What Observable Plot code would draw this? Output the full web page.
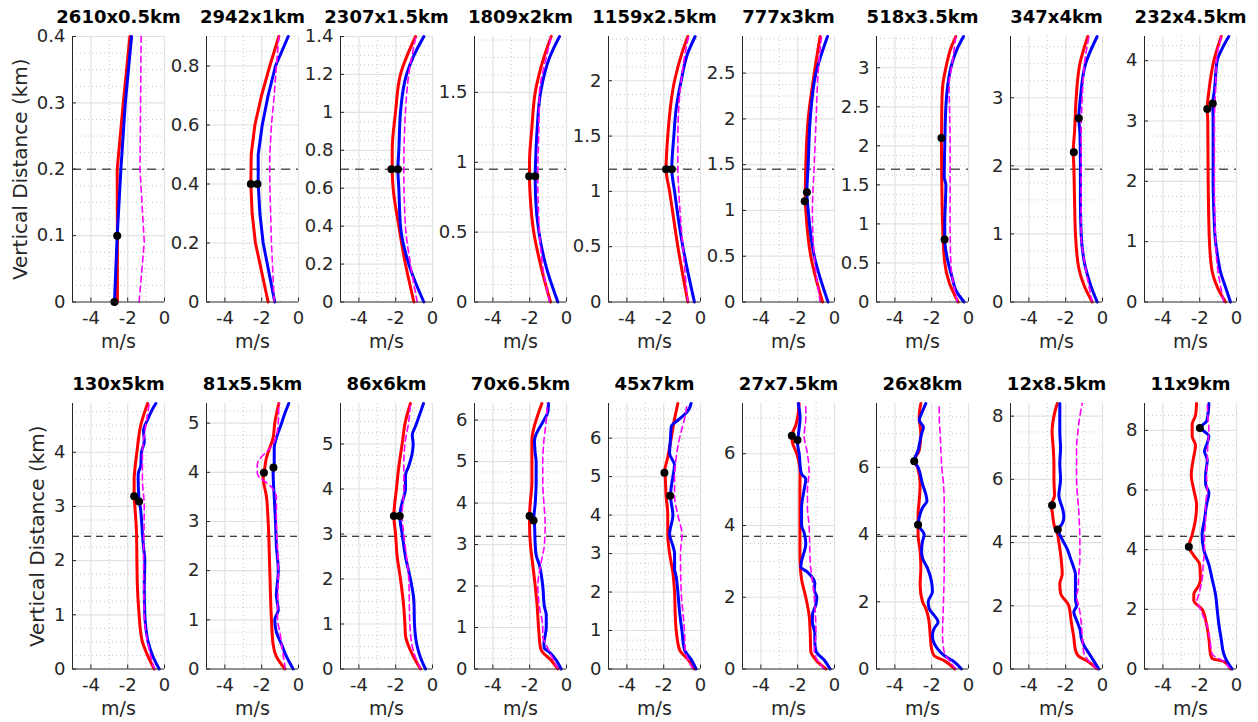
<!DOCTYPE html>
<html><head><meta charset="utf-8">
<script src="https://cdn.jsdelivr.net/npm/d3@7"></script>
<script src="https://cdn.jsdelivr.net/npm/@observablehq/plot@0.6"></script>
<style>
body{margin:0;background:#fff;}
#chart{position:relative;width:1258px;height:722px;overflow:hidden;background:#fff;}
#chart svg{position:absolute;overflow:visible;background:transparent;max-width:none;}
</style></head><body><div id="chart"></div>
<script>
// ---------- data ----------
const titles = ["2610x0.5km","2942x1km","2307x1.5km","1809x2km","1159x2.5km","777x3km","518x3.5km","347x4km","232x4.5km",
  "130x5km","81x5.5km","86x6km","70x6.5km","45x7km","27x7.5km","26x8km","12x8.5km","11x9km"];
const yMax = [0.4,0.9,1.4,1.9,2.4,2.9,3.4,3.9,4.4,4.9,5.4,5.9,6.4,6.9,7.4,7.9,8.4,8.9];
const tickStep = [0.1,0.2,0.2,0.5,0.5,0.5,0.5,1,1,1,1,1,1,1,2,2,2,2];
const thresholds = [0.2,0.45,0.7,0.95,1.2,1.45,1.7,1.95,2.2,2.45,2.7,2.95,3.2,3.45,3.7,3.95,4.2,4.45];
const xTicksMajor = [-4,-2,0];
const xTicksMinor = [-3,-1];
const xDomain = [-5,0];
const yLabel = "Vertical Distance (km)";
const xLabel = "m/s";

// profiles: [depth km, speed m/s]
const redLines = [
 [[0,-2.56],[0.1,-2.56],[0.2,-2.57],[0.3,-2.24],[0.4,-1.88]],
 [[0,-1.65],[0.2,-2.34],[0.3,-2.52],[0.4,-2.59],[0.5,-2.57],[0.6,-2.37],[0.7,-2.01],[0.8,-1.56],[0.9,-1.07]],
 [[0,-1.01],[0.2,-1.47],[0.4,-1.83],[0.6,-2.14],[0.7,-2.19],[0.8,-2.19],[1.0,-2.01],[1.2,-1.74],[1.4,-0.92]],
 [[0,-0.87],[0.25,-1.38],[0.5,-1.78],[0.75,-1.97],[0.9,-2.01],[1.0,-2.01],[1.25,-1.88],[1.5,-1.7],[1.75,-1.23],[1.9,-0.83]],
 [[0,-0.69],[0.5,-1.23],[1.0,-1.68],[1.2,-1.87],[1.5,-1.78],[2.0,-1.41],[2.25,-1.01],[2.4,-0.69]],
 [[0,-0.65],[0.5,-1.29],[1.0,-1.56],[1.1,-1.59],[1.5,-1.56],[2.0,-1.43],[2.5,-1.1],[2.9,-0.78]],
 [[0,-0.56],[0.25,-1.05],[0.5,-1.29],[1.0,-1.41],[1.5,-1.45],[2.0,-1.47],[2.5,-1.45],[2.75,-1.41],[3.0,-1.23],[3.25,-0.96],[3.4,-0.69]],
 [[0,-0.56],[0.25,-1.01],[0.5,-1.29],[1.0,-1.47],[1.5,-1.52],[2.0,-1.56],[2.2,-1.59],[2.5,-1.52],[3.0,-1.43],[3.5,-1.23],[3.9,-0.8]],
 [[0,-0.6],[0.25,-1.05],[0.5,-1.32],[1.0,-1.47],[2.0,-1.54],[3.0,-1.56],[3.2,-1.59],[3.5,-1.5],[4.0,-1.23],[4.4,-0.83]],
 [[0,-0.56],[0.25,-0.92],[0.5,-1.2],[0.75,-1.32],[1.0,-1.38],[1.5,-1.47],[2.0,-1.5],[2.5,-1.52],[3.0,-1.61],[3.2,-1.65],[3.5,-1.65],[3.75,-1.59],[4.0,-1.5],[4.5,-1.29],[4.9,-0.92]],
 [[0,-0.74],[0.25,-1.2],[0.5,-1.38],[1.0,-1.47],[2.0,-1.56],[3.0,-1.65],[3.5,-1.74],[3.9,-1.92],[4.1,-1.83],[4.3,-1.74],[4.5,-1.56],[4.7,-1.38],[5.0,-1.29],[5.4,-1.07]],
 [[0,-0.65],[0.25,-1.0],[0.5,-1.29],[0.75,-1.47],[1.0,-1.5],[1.5,-1.59],[2.0,-1.74],[2.5,-1.92],[3.0,-2.01],[3.4,-2.1],[4.0,-1.96],[4.5,-1.83],[5.0,-1.65],[5.5,-1.47],[5.9,-1.2]],
 [[0,-0.47],[0.25,-0.92],[0.4,-1.29],[0.5,-1.41],[1.0,-1.52],[1.5,-1.59],[2.0,-1.7],[2.5,-1.83],[3.0,-1.96],[3.5,-2.01],[3.7,-2.01],[4.0,-1.97],[4.5,-1.88],[5.0,-1.88],[5.5,-1.88],[5.8,-1.78],[6.0,-1.65],[6.4,-1.34]],
 [[0,-0.33],[0.25,-0.69],[0.5,-1.14],[1.0,-1.32],[1.5,-1.38],[2.0,-1.41],[2.5,-1.5],[3.0,-1.68],[3.5,-1.78],[4.0,-1.78],[4.5,-1.87],[5.0,-1.92],[5.1,-1.96],[5.5,-1.78],[6.0,-1.59],[6.5,-1.41],[6.9,-1.23]],
 [[0,-0.47],[0.25,-1.01],[0.5,-1.29],[1.0,-1.32],[1.5,-1.38],[2.0,-1.56],[2.5,-1.79],[3.0,-1.87],[3.5,-1.88],[4.0,-1.88],[5.0,-1.88],[5.5,-1.87],[6.0,-2.05],[6.3,-2.28],[6.5,-2.32],[6.8,-2.1],[7.0,-2.01],[7.4,-1.92]],
 [[0,-0.74],[0.25,-1.32],[0.4,-1.87],[0.6,-2.01],[1.0,-2.08],[1.5,-2.17],[1.8,-2.32],[2.0,-2.5],[2.5,-2.63],[3.0,-2.59],[3.5,-2.63],[4.0,-2.74],[4.6,-2.74],[5.0,-2.68],[5.5,-2.63],[6.0,-2.77],[6.2,-2.95],[6.5,-2.68],[7.0,-2.59],[7.5,-2.68],[7.9,-2.59]],
 [[0,-0.29],[0.25,-0.83],[0.4,-1.29],[0.6,-1.47],[1.0,-1.56],[1.5,-1.7],[2.0,-1.83],[2.4,-2.28],[2.7,-2.32],[3.0,-2.19],[3.5,-2.25],[4.0,-2.37],[4.3,-2.46],[4.5,-2.61],[5.0,-2.74],[5.15,-2.79],[5.5,-2.61],[6.0,-2.64],[6.5,-2.64],[7.0,-2.68],[7.5,-2.74],[8.0,-2.64],[8.4,-2.46]],
 [[0,-0.33],[0.25,-0.69],[0.35,-1.32],[0.5,-1.41],[1.0,-1.5],[1.5,-1.63],[2.0,-1.87],[2.3,-2.32],[2.5,-2.32],[2.8,-2.05],[3.0,-1.96],[3.5,-2.0],[3.8,-2.32],[4.1,-2.59],[4.5,-2.41],[5.0,-2.23],[5.5,-2.17],[6.0,-2.32],[6.5,-2.46],[7.0,-2.36],[7.5,-2.23],[7.8,-2.41],[8.2,-2.41],[8.5,-2.23],[8.9,-2.17]]
];
const blueLines = [
 [[0,-2.72],[0.1,-2.57],[0.2,-2.37],[0.3,-2.13],[0.4,-1.79]],
 [[0,-1.29],[0.2,-1.92],[0.3,-2.1],[0.4,-2.19],[0.5,-2.19],[0.6,-1.97],[0.7,-1.65],[0.8,-1.25],[0.9,-0.56]],
 [[0,-0.47],[0.2,-1.29],[0.4,-1.74],[0.6,-1.83],[0.7,-1.88],[0.8,-1.83],[1.0,-1.74],[1.2,-1.41],[1.3,-1.01],[1.4,-0.47]],
 [[0,-0.47],[0.25,-1.1],[0.5,-1.5],[0.75,-1.68],[0.9,-1.7],[1.0,-1.68],[1.25,-1.59],[1.5,-1.41],[1.75,-0.92],[1.9,-0.38]],
 [[0,-0.33],[0.5,-0.96],[1.0,-1.41],[1.2,-1.56],[1.5,-1.45],[1.75,-1.32],[2.0,-1.05],[2.25,-0.69],[2.4,-0.29]],
 [[0,-0.35],[0.5,-1.1],[1.0,-1.43],[1.2,-1.5],[1.5,-1.43],[2.0,-1.32],[2.5,-1.01],[2.9,-0.38]],
 [[0,-0.24],[0.15,-0.69],[0.3,-0.87],[0.5,-1.1],[0.8,-1.29],[1.0,-1.29],[1.5,-1.23],[1.6,-1.32],[2.0,-1.29],[2.5,-1.23],[2.75,-1.14],[3.0,-0.96],[3.25,-0.6],[3.4,-0.27]],
 [[0,-0.29],[0.25,-0.65],[0.5,-0.92],[1.0,-1.16],[1.5,-1.2],[2.0,-1.2],[2.5,-1.23],[2.7,-1.29],[3.0,-1.2],[3.5,-0.92],[3.9,-0.29]],
 [[0,-0.33],[0.25,-0.6],[0.5,-0.87],[0.8,-1.05],[1.0,-1.14],[1.5,-1.23],[2.0,-1.27],[3.0,-1.27],[3.3,-1.29],[3.5,-1.2],[4.0,-1.05],[4.2,-0.78],[4.4,-0.42]],
 [[0,-0.29],[0.25,-0.65],[0.5,-0.89],[0.75,-1.01],[1.0,-1.07],[1.5,-1.1],[2.0,-1.07],[2.25,-1.14],[2.5,-1.2],[2.75,-1.25],[3.0,-1.32],[3.1,-1.38],[3.5,-1.43],[3.6,-1.43],[3.75,-1.29],[4.0,-1.25],[4.2,-1.1],[4.4,-1.14],[4.6,-0.92],[4.8,-0.65],[4.9,-0.47]],
 [[0,-0.29],[0.25,-0.65],[0.5,-0.92],[0.75,-1.2],[1.0,-1.29],[1.2,-1.1],[1.5,-1.2],[2.0,-1.1],[2.5,-1.2],[3.0,-1.25],[3.5,-1.32],[4.0,-1.38],[4.1,-1.32],[4.5,-1.32],[4.7,-1.2],[5.0,-0.92],[5.2,-0.74],[5.4,-0.53]],
 [[0,-0.38],[0.25,-0.65],[0.5,-0.83],[1.0,-0.98],[1.5,-1.01],[2.0,-1.2],[2.5,-1.47],[3.0,-1.65],[3.4,-1.78],[3.7,-1.65],[4.0,-1.47],[4.3,-1.47],[4.5,-1.3],[4.8,-1.1],[5.0,-1.05],[5.2,-1.1],[5.4,-0.92],[5.9,-0.49]],
 [[0,-0.29],[0.25,-0.62],[0.4,-0.92],[0.5,-1.2],[0.6,-1.23],[1.0,-1.1],[1.3,-1.1],[1.5,-1.2],[2.0,-1.29],[2.5,-1.47],[2.75,-1.65],[3.0,-1.7],[3.5,-1.74],[3.6,-1.78],[4.0,-1.7],[4.5,-1.65],[5.0,-1.65],[5.2,-1.7],[5.5,-1.74],[6.0,-1.23],[6.2,-1.01],[6.4,-0.98]],
 [[0,-0.24],[0.25,-0.51],[0.5,-0.87],[1.0,-1.01],[1.5,-1.14],[2.0,-1.23],[2.4,-1.32],[2.6,-1.41],[3.0,-1.41],[3.2,-1.5],[3.5,-1.68],[4.0,-1.5],[4.5,-1.63],[5.0,-1.5],[5.3,-1.41],[5.6,-1.68],[6.0,-1.63],[6.3,-1.59],[6.5,-1.14],[6.7,-0.69],[6.9,-0.51]],
 [[0,-0.24],[0.25,-0.56],[0.5,-1.01],[0.75,-1.07],[1.0,-1.07],[1.3,-1.2],[1.5,-1.2],[1.8,-1.01],[2.0,-0.96],[2.2,-1.1],[2.4,-1.07],[2.7,-1.47],[2.85,-1.83],[3.0,-1.79],[3.5,-1.56],[3.8,-1.65],[4.0,-1.79],[4.5,-1.79],[5.0,-1.65],[5.3,-1.56],[5.4,-1.74],[5.5,-1.83],[6.0,-1.92],[6.3,-2.01],[6.5,-1.97],[7.0,-1.87],[7.4,-1.97]],
 [[0,-0.38],[0.25,-0.87],[0.4,-1.32],[0.6,-1.68],[1.0,-1.96],[1.2,-1.87],[1.4,-1.65],[1.6,-1.87],[1.8,-2.14],[2.0,-2.19],[2.3,-1.96],[2.6,-2.01],[3.0,-2.23],[3.3,-2.5],[3.5,-2.55],[3.8,-2.5],[4.0,-2.41],[4.3,-2.74],[4.5,-2.68],[4.8,-2.5],[5.0,-2.26],[5.2,-2.32],[5.5,-2.5],[6.0,-2.74],[6.2,-2.95],[6.5,-2.74],[6.8,-2.63],[7.0,-2.55],[7.2,-2.45],[7.4,-2.68],[7.6,-2.55],[7.9,-2.32]],
 [[0,-0.2],[0.25,-0.47],[0.5,-0.74],[0.75,-1.01],[1.0,-1.16],[1.2,-1.2],[1.5,-1.38],[1.8,-1.56],[2.0,-1.41],[2.2,-1.47],[2.5,-1.47],[3.0,-1.47],[3.2,-1.56],[3.5,-1.74],[3.8,-1.92],[4.0,-2.1],[4.2,-2.28],[4.4,-2.43],[4.6,-2.19],[4.8,-2.1],[5.0,-2.14],[5.5,-2.37],[6.0,-2.28],[6.5,-2.32],[7.0,-2.28],[7.5,-2.32],[8.0,-2.32],[8.4,-2.32]],
 [[0,-0.24],[0.25,-0.51],[0.5,-0.69],[1.0,-0.83],[1.5,-0.96],[2.0,-1.05],[2.5,-1.14],[3.0,-1.32],[3.5,-1.5],[4.0,-1.78],[4.5,-1.87],[5.0,-1.74],[5.5,-1.63],[5.9,-1.5],[6.2,-1.68],[6.5,-1.68],[7.0,-1.59],[7.3,-1.74],[7.5,-1.63],[7.8,-1.5],[8.1,-1.96],[8.3,-1.63],[8.5,-1.56],[8.9,-1.5]]
];
const magentaLines = [
 [[0,-1.38],[0.09,-1.1],[0.2,-1.33],[0.3,-1.3],[0.4,-1.27]],
 [[0,-1.32],[0.2,-1.47],[0.4,-1.56],[0.5,-1.56],[0.6,-1.47],[0.7,-1.32],[0.8,-1.2],[0.9,-1.07]],
 [[0,-0.83],[0.2,-1.2],[0.4,-1.47],[0.7,-1.56],[1.0,-1.47],[1.2,-1.29],[1.4,-0.9]],
 [[0,-0.92],[0.25,-1.29],[0.5,-1.47],[0.9,-1.56],[1.25,-1.5],[1.5,-1.47],[1.75,-1.1],[1.9,-0.83]],
 [[0,-0.69],[0.5,-0.96],[1.0,-1.18],[1.2,-1.23],[1.5,-1.23],[2.0,-1.05],[2.25,-0.83],[2.4,-0.65]],
 [[0,-0.78],[0.5,-1.1],[1.0,-1.2],[1.5,-1.1],[2.0,-1.0],[2.5,-0.89],[2.9,-0.71]],
 [[0,-0.6],[0.5,-0.96],[1.0,-1.0],[2.0,-1.0],[2.8,-1.05],[3.0,-0.92],[3.4,-0.69]],
 [[0,-0.56],[0.5,-0.92],[1.0,-1.16],[2.0,-1.16],[2.5,-1.16],[3.0,-1.1],[3.5,-0.98],[3.9,-0.74]],
 [[0,-0.69],[0.5,-1.0],[1.0,-1.14],[2.0,-1.2],[3.0,-1.2],[3.5,-1.14],[4.0,-1.09],[4.4,-0.83]],
 [[0,-0.56],[0.5,-0.92],[1.0,-1.1],[2.0,-1.14],[3.0,-1.1],[3.5,-1.2],[4.0,-1.2],[4.5,-1.01],[4.9,-0.83]],
 [[0,-0.71],[0.5,-0.92],[0.75,-1.01],[1.0,-1.14],[2.0,-1.1],[3.0,-1.2],[3.5,-1.2],[3.7,-1.47],[3.98,-2.24],[4.15,-2.24],[4.6,-1.34],[5.0,-1.1],[5.4,-1.07]],
 [[0,-0.65],[0.5,-1.1],[1.0,-1.23],[2.0,-1.29],[3.0,-1.56],[3.4,-1.65],[4.0,-1.56],[4.5,-1.56],[5.0,-1.5],[5.5,-1.29],[5.9,-1.2]],
 [[0,-0.47],[0.5,-1.01],[0.8,-1.29],[1.0,-1.29],[1.5,-1.47],[2.0,-1.56],[2.5,-1.41],[3.0,-1.2],[3.5,-1.16],[4.0,-1.23],[4.5,-1.29],[5.0,-1.29],[5.5,-1.23],[6.0,-1.1],[6.4,-1.05]],
 [[0,-0.42],[0.5,-0.83],[1.0,-0.87],[1.5,-0.96],[2.0,-1.05],[3.0,-1.09],[3.5,-1.01],[4.0,-1.23],[4.5,-1.41],[5.0,-1.41],[5.5,-1.32],[6.0,-1.14],[6.5,-0.87],[6.9,-0.72]],
 [[0,-0.56],[0.5,-1.1],[1.0,-1.01],[2.0,-1.1],[3.0,-1.32],[4.0,-1.38],[4.5,-1.47],[5.0,-1.47],[5.5,-1.38],[6.0,-1.47],[6.5,-1.65],[7.0,-1.56],[7.4,-1.56]],
 [[0,-0.69],[0.25,-1.05],[0.5,-1.32],[1.0,-1.41],[2.0,-1.36],[3.0,-1.32],[4.0,-1.32],[5.0,-1.32],[5.5,-1.36],[6.0,-1.45],[6.5,-1.5],[7.0,-1.54],[7.5,-1.59],[7.9,-1.59]],
 [[0,-0.29],[0.25,-0.74],[0.5,-1.01],[1.0,-1.1],[1.5,-1.16],[2.0,-1.29],[2.3,-1.41],[2.5,-1.34],[3.0,-1.29],[3.5,-1.23],[4.0,-1.23],[5.0,-1.29],[6.0,-1.41],[7.0,-1.41],[7.5,-1.34],[8.0,-1.23],[8.4,-1.1]],
 [[0,-0.33],[0.25,-0.69],[0.5,-1.32],[1.0,-1.45],[1.5,-1.63],[2.0,-1.96],[2.3,-2.14],[2.5,-2.05],[3.0,-1.87],[3.5,-1.81],[4.0,-1.74],[4.5,-1.74],[5.0,-1.68],[5.5,-1.68],[6.0,-1.59],[6.5,-1.63],[7.0,-1.59],[7.5,-1.56],[8.0,-1.5],[8.5,-1.56],[8.9,-1.59]]
];
const markerDots = [
 [[0.1,-2.57],[0,-2.72]],
 [[0.4,-2.59],[0.4,-2.23]],
 [[0.7,-2.23],[0.7,-1.88]],
 [[0.9,-2.03],[0.9,-1.7]],
 [[1.2,-1.87],[1.2,-1.56]],
 [[1.2,-1.5],[1.1,-1.62]],
 [[2.1,-1.47],[0.8,-1.3]],
 [[2.7,-1.29],[2.2,-1.56]],
 [[3.2,-1.59],[3.29,-1.29]],
 [[3.19,-1.65],[3.09,-1.38]],
 [[3.99,-1.88],[4.1,-1.36]],
 [[3.4,-2.1],[3.4,-1.78]],
 [[3.69,-2.01],[3.58,-1.79]],
 [[5.1,-1.96],[4.5,-1.65]],
 [[6.5,-2.32],[6.38,-2.01]],
 [[6.18,-2.95],[4.29,-2.74]],
 [[5.18,-2.74],[4.41,-2.43]],
 [[8.08,-1.99],[4.1,-2.59]]
];

// ---------- drawing ----------
const FONT = "'DejaVu Sans', 'Liberation Sans', Arial, sans-serif";
const AX = "#262626";
const frameW = 92, frameH = 265.5, mL = 70, mR = 8, mT = 36, mB = 56;
const container = document.getElementById("chart");

titles.forEach((title, i) => {
  const col = i % 9, row = Math.floor(i / 9);
  const frameLeft = 72 + 134 * col;
  const frameTop = row ? 403 : 36;
  const ymax = yMax[i], step = tickStep[i];
  const nMaj = Math.floor(ymax / step + 1e-9);
  const majors = d3.range(0, nMaj + 1).map(k => +(k * step).toFixed(4));
  const mstep = step / 4;
  const nMin = Math.floor(ymax / mstep + 1e-9);
  const minors = d3.range(1, nMin + 1).map(k => +(k * mstep).toFixed(4))
    .filter(v => !majors.some(m => Math.abs(m - v) < 1e-9));
  const curve = i < 2 ? "linear" : "monotone-y";
  const X = d => d[1], Y = d => d[0];

  const marks = [
    Plot.ruleX(xTicksMinor, {stroke: "#c8c8c8", strokeDasharray: "1,3", strokeWidth: 1}),
    Plot.ruleY(minors, {stroke: "#c8c8c8", strokeDasharray: "1,3", strokeWidth: 1}),
    Plot.ruleX(xTicksMajor, {stroke: "#e2e2e2", strokeWidth: 1.2}),
    Plot.ruleY(majors.filter(v => v > 0), {stroke: "#e2e2e2", strokeWidth: 1.2}),
    Plot.ruleY([thresholds[i]], {stroke: row ? "#000" : "#555", strokeWidth: row ? 1.2 : 1.5, strokeDasharray: row ? "7,5" : "9,6"}),
    Plot.line(redLines[i], {x: X, y: Y, stroke: "#ff0000", strokeWidth: 3, curve}),
    Plot.line(blueLines[i], {x: X, y: Y, stroke: "#0000ff", strokeWidth: 3, curve}),
    Plot.line(magentaLines[i], {x: X, y: Y, stroke: "#ff00ff", strokeWidth: 1.6, strokeDasharray: "6,4", curve}),
    Plot.dot(markerDots[i], {x: X, y: Y, r: 4, fill: "#000", stroke: "none"}),
    Plot.ruleX([xDomain[0]], {stroke: AX, strokeWidth: 1}),
    Plot.ruleY([0], {stroke: AX, strokeWidth: 1}),
    Plot.tickY(majors, {y: d => d, stroke: AX, insetRight: frameW - 4}),
    Plot.tickX(xTicksMajor, {x: d => d, stroke: AX, insetTop: frameH - 4}),
    Plot.axisY({ticks: majors, tickSize: 0, tickPadding: 7, tickFormat: d => String(d), label: null, fontSize: 18, fill: AX}),
    Plot.axisX({ticks: xTicksMajor, tickSize: 0, tickPadding: 9, tickFormat: d => String(d), label: null, fontSize: 18, fill: AX}),
    Plot.text([xLabel], {frameAnchor: "bottom", lineAnchor: "middle", textAnchor: "middle", dy: 40, fontSize: 19, fill: AX}),
    Plot.text([title], {frameAnchor: "top", lineAnchor: "middle", textAnchor: "middle", dy: -19, fontSize: 18, fontWeight: "bold", fill: "#000"})
  ];
  if (col === 0) {
    marks.push(Plot.text([yLabel], {frameAnchor: "left", textAnchor: "middle", lineAnchor: "middle", dx: row ? -35 : -52, rotate: -90, fontSize: 20, fill: AX}));
  }

  const svg = Plot.plot({
    width: mL + frameW + mR,
    height: mT + frameH + mB,
    marginLeft: mL, marginRight: mR, marginTop: mT, marginBottom: mB,
    x: {domain: xDomain},
    y: {domain: [0, ymax]},
    style: {fontFamily: FONT, fontSize: "18px", background: "transparent", color: AX, overflow: "visible"},
    marks
  });
  svg.style.left = (frameLeft - mL) + "px";
  svg.style.top = (frameTop - mT) + "px";
  container.appendChild(svg);
});
</script>
</body></html>
